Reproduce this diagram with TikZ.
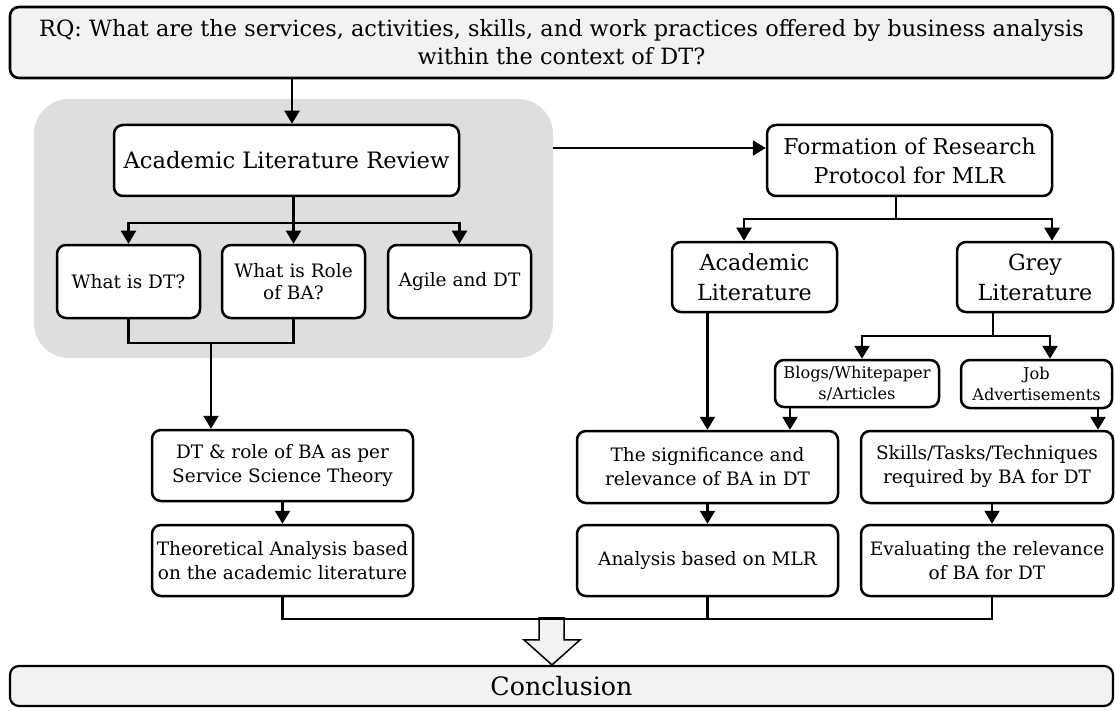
\documentclass[tikz,border=0pt]{standalone}
\usepackage{fontspec}
\setmainfont{DejaVu Serif}
\usetikzlibrary{arrows.meta}
\definecolor{bglight}{HTML}{F2F2F2}
\definecolor{bggrey}{HTML}{DEDEDE}
\newcommand\fRQ{\fontsize{22.4}{28}\selectfont}
\newcommand\fALR{\fontsize{22.6}{28}\selectfont}
\newcommand\fMid{\fontsize{21.8}{29}\selectfont}
\newcommand\fLit{\fontsize{22.2}{30}\selectfont}
\newcommand\fSm{\fontsize{18.5}{22.4}\selectfont}
\newcommand\fBot{\fontsize{18.5}{24}\selectfont}
\newcommand\fTiny{\fontsize{16.2}{20.5}\selectfont}
\newcommand\fConc{\fontsize{25.3}{30}\selectfont}
\tikzset{
  box/.style={draw, line width=2.5pt, rounded corners=9pt, fill=white, align=center, inner sep=0pt, text=black},
  ln/.style={line width=2.2pt},
  arr/.style={line width=2.2pt, -{Triangle[width=15pt,length=13pt]}},
}
\begin{document}
\begin{tikzpicture}[x=1pt,y=-1pt]
\useasboundingbox (0,0) rectangle (1115,711);
% grey background panel
\node[fill=bggrey, rounded corners=35pt, minimum width=519pt, minimum height=259pt, inner sep=0pt] (bg) at (293.5,228.5) {};
% boxes
\node[box, fill=bglight, line width=2.6pt, minimum width=1103pt, minimum height=71pt, font=\fRQ] (rq) at (561.5,42.5) {RQ: What are the services, activities, skills, and work practices offered by business analysis\\within the context of DT?};
\node[box, minimum width=345pt, minimum height=71pt, font=\fALR] (alr) at (286.5,160.5) {Academic Literature Review};
\node[box, minimum width=143pt, minimum height=73pt, font=\fSm] (dt) at (128.5,281.5) {What is DT?};
\node[box, minimum width=143pt, minimum height=73pt, font=\fSm] (role) at (293.5,281.5) {What is Role\\of BA?};
\node[box, minimum width=143pt, minimum height=73pt, font=\fSm] (agile) at (459.5,281.5) {Agile and DT};
\node[box, minimum width=285pt, minimum height=71pt, font=\fMid] (form) at (909.5,160.5) {Formation of Research\\Protocol for MLR};
\node[box, minimum width=165pt, minimum height=70pt, font=\fLit] (aclit) at (754.5,277) {Academic\\Literature};
\node[box, minimum width=156pt, minimum height=70pt, font=\fLit] (grey) at (1035,277) {Grey\\Literature};
\node[box, minimum width=164pt, minimum height=47pt, font=\fTiny] (blogs) at (857,383.5) {Blogs/Whitepaper\\s/Articles};
\node[box, minimum width=151pt, minimum height=48pt, font=\fTiny] (job) at (1036.5,384) {Job\\Advertisements};
\node[box, minimum width=261pt, minimum height=71pt, font=\fBot] (dtrole) at (282.5,465.5) {DT \& role of BA as per\\Service Science Theory};
\node[box, minimum width=261pt, minimum height=71pt, font=\fBot] (theo) at (282.5,560.5) {Theoretical Analysis based\\on the academic literature};
\node[box, minimum width=261pt, minimum height=72pt, font=\fBot] (sig) at (707.5,467) {The significance and\\relevance of BA in DT};
\node[box, minimum width=261pt, minimum height=71pt, font=\fBot] (ana) at (707.5,560.5) {Analysis based on MLR};
\node[box, minimum width=252pt, minimum height=72pt, font=\fBot] (skills) at (987,467) {Skills/Tasks/Techniques\\required by BA for DT};
\node[box, minimum width=252pt, minimum height=71pt, font=\fBot] (eval) at (987,560.5) {Evaluating the relevance\\of BA for DT};
\node[box, fill=bglight, line width=2.2pt, minimum width=1103pt, minimum height=40pt, font=\fConc] (concl) at (561.5,686) {Conclusion};
% RQ -> ALR
\coordinate (c1) at ([xshift=5.5pt]alr.north);
\draw[arr] (c1 |- rq.south) -- (c1);
% ALR -> three questions
\coordinate (yb1) at (0,223);
\draw[ln] (role.north |- alr.south) -- (role.north |- yb1);
\draw[arr] (role.north |- yb1) -| (dt.north);
\draw[arr] (role.north |- yb1) -| (agile.north);
\draw[arr] (role.north |- yb1) -- (role.north);
% two questions -> DT & role
\coordinate (yj) at (0,343);
\coordinate (xj) at (211,343);
\draw[ln] (dt.south) -- (dt.south |- yj) -- (role.south |- yj) -- (role.south);
\draw[arr] (xj) -- (xj |- dtrole.north);
% ALR panel -> Formation
\coordinate (ya) at (0,148);
\draw[arr] (bg.east |- ya) -- (form.west |- ya);
% Formation -> literature
\coordinate (fb) at (896,219);
\coordinate (fa) at ([xshift=-10.5pt]aclit.north);
\coordinate (fg) at ([xshift=17pt]grey.north);
\draw[ln] (fb |- form.south) -- (fb);
\draw[arr] (fb) -| (fa);
\draw[arr] (fb) -| (fg);
% Grey -> blogs / job
\coordinate (gb) at (993,336);
\coordinate (gbl) at ([xshift=5pt]blogs.north);
\coordinate (gbj) at ([xshift=13.5pt]job.north);
\draw[ln] (gb |- grey.south) -- (gb);
\draw[arr] (gb) -| (gbl);
\draw[arr] (gb) -| (gbj);
% into significance / skills
\draw[arr] (sig.north |- aclit.south) -- (sig.north);
\coordinate (bs) at ([xshift=-67pt]blogs.south);
\draw[arr] (bs) -- (bs |- sig.north);
\coordinate (js) at ([xshift=61.5pt]job.south);
\draw[arr] (js) -- (js |- skills.north);
\draw[arr] (sig.south) -- (ana.north);
\coordinate (se) at ([xshift=5pt]skills.south);
\draw[arr] (se) -- (se |- eval.north);
\draw[arr] (dtrole.south) -- (theo.north);
% block arrow to conclusion
\coordinate (tip) at ([xshift=-9.5pt]concl.north);
\draw[line width=1.5pt, fill=bglight, line join=miter] (tip) -- ++(-28,-25) -- ++(15,0) -- ++(0,-22) -- ++(25,0) -- ++(0,22) -- ++(16,0) -- cycle;
% join line
\coordinate (yc) at (0,619);
\coordinate (ev) at ([xshift=5pt]eval.south);
\draw[ln] (theo.south) -- (theo.south |- yc) -- (ev |- yc) -- (ev);
\draw[ln] (ana.south) -- (ana.south |- yc);
\end{tikzpicture}
\end{document}
